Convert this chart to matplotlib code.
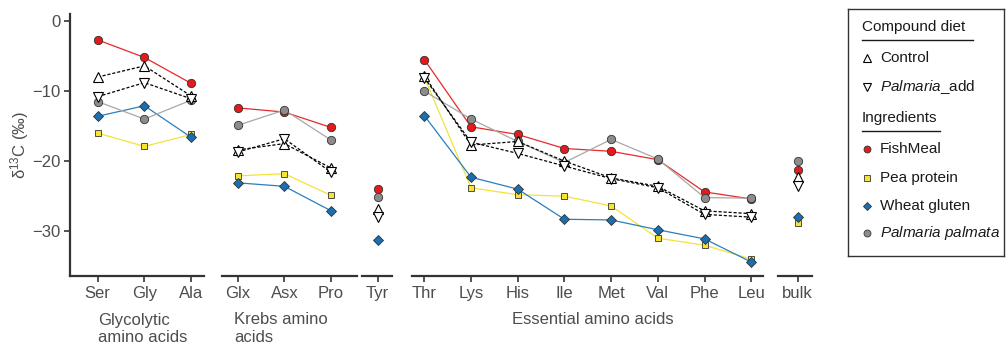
import numpy as np
import matplotlib.pyplot as plt

plt.rcParams['font.family'] = ['Liberation Sans', 'DejaVu Sans']
plt.rcParams['mathtext.fontset'] = 'custom'
plt.rcParams['mathtext.rm'] = 'Liberation Sans'
plt.rcParams['mathtext.it'] = 'Liberation Sans:italic'

# amino acid groups
glyco = ['Ser', 'Gly', 'Ala']
krebs = ['Glx', 'Asx', 'Pro']
tyr = ['Tyr']
essential = ['Thr', 'Lys', 'His', 'Ile', 'Met', 'Val', 'Phe', 'Leu']
bulk = ['bulk']

# d13C values, order: glyco + krebs + tyr + essential + bulk
fishmeal = [-2.7, -5.2, -8.9, -12.4, -13.0, -15.2, -24.0,
            -5.5, -15.1, -16.2, -18.2, -18.6, -19.8, -24.4, -25.4, -21.2]
pea = [-16.0, -17.9, -16.2, -22.1, -21.8, -24.9, np.nan,
       -8.0, -23.8, -24.8, -25.0, -26.4, -31.0, -32.0, -34.0, -28.9]
wheat = [-13.6, -12.1, -16.6, -23.1, -23.6, -27.1, -31.3,
         -13.5, -22.3, -24.0, -28.3, -28.4, -29.8, -31.1, -34.4, -28.0]
palmaria = [-11.5, -14.0, -11.3, -14.9, -12.7, -17.0, -25.1,
            -10.0, -14.0, -17.2, -20.2, -16.9, -19.7, -25.2, -25.3, -20.0]
control = [-8.0, -6.4, -10.7, -18.4, -17.5, -21.0, -26.9,
           -7.8, -17.7, -17.2, -20.0, -22.4, -23.6, -27.1, -27.5, -22.2]
palm_add = [-10.8, -8.8, -11.1, -18.7, -16.8, -21.6, -28.0,
            -8.1, -17.3, -18.9, -20.7, -22.5, -23.8, -27.6, -28.0, -23.5]

groups = [glyco, krebs, tyr, essential, bulk]
group_titles = [['Glycolytic', 'amino acids'], ['Krebs amino', 'acids'], [],
                ['Essential amino acids'], []]

W, H = 1008, 346
fig = plt.figure(figsize=(W / 100, H / 100), dpi=100)

txt = '#4d4d4d'
axc = '#333333'

# panel frames in pixels: left, right, pixel of first tick
frames = [(70, 204, 97.7), (222, 356.7, 237.7), (362.3, 391.7, 377.7),
          (412.3, 763, 424.3), (778.3, 812.3, 797.7)]
step = 46.7
top, bot = 14, 276

ingredients = [
    (fishmeal, '#e8282b', '#e41a1c', 'o', 6.0),
    (pea, '#f2e33a', '#f5e531', 's', 5.0),
    (wheat, '#2a7fc0', '#1b6fb0', 'D', 5.4),
    (palmaria, '#a8a8a8', '#8c8c8c', 'o', 6.0),
]
diets = [(control, '^'), (palm_add, 'v')]

start = 0
for i, (cats, (l, r, p0), title) in enumerate(zip(groups, frames, group_titles)):
    n = len(cats)
    ax = fig.add_axes([l / W, 1 - bot / H, (r - l) / W, (bot - top) / H])
    x = np.arange(n)
    sl = slice(start, start + n)
    for vals, lc, fc, mk, ms in ingredients:
        ax.plot(x, vals[sl], color=lc, lw=0.9, marker=mk, ms=ms,
                mfc=fc, mec='#333333', mew=0.6, zorder=3)
    for vals, mk in diets:
        ax.plot(x, vals[sl], color='black', lw=0.9, ls=(0, (2.5, 1.5)),
                marker=mk, ms=7, mfc='white', mec='black', mew=0.8, zorder=4)
    start += n

    ax.set_xlim((l - p0) / step, (r - p0) / step)
    ax.set_ylim(-36.4, 1.0)
    ax.set_xticks(x)
    ax.set_xticklabels(cats)
    for s in ['top', 'right']:
        ax.spines[s].set_visible(False)
    ax.spines['bottom'].set_color(axc)
    ax.spines['bottom'].set_linewidth(1.6)
    ax.tick_params(axis='x', colors=axc, labelcolor=txt, labelsize=12,
                   length=4, width=1.2, pad=3)
    if i == 0:
        ax.spines['left'].set_color(axc)
        ax.spines['left'].set_linewidth(1.6)
        ax.set_yticks([0, -10, -20, -30])
        ax.set_yticklabels(['0', '\u221210', '\u221220', '\u221230'])
        ax.tick_params(axis='y', colors=axc, labelcolor=txt, labelsize=12,
                       length=4, width=1.2, pad=3)
        ax.set_ylabel(r'$\mathrm{\delta}^{13}$C (‰)', fontsize=12, color=txt,
                      labelpad=1)
    else:
        ax.spines['left'].set_visible(False)
        ax.set_yticks([])
    ax.patch.set_alpha(0)

    # group label under the ticks
    if len(title) == 2:
        lx = 98 if i == 0 else 234
        for k, line in enumerate(title):
            fig.text(lx / W, 1 - (320 + 18 * k) / H, line, fontsize=12,
                     color=txt, ha='left', va='center')
    elif len(title) == 1:
        fig.text(593 / W, 1 - 320 / H, title[0], fontsize=12, color=txt,
                 ha='center', va='center')

# legend box
lx0, lx1, ly0, ly1 = 848, 1004, 9, 256
lg = fig.add_axes([lx0 / W, 1 - ly1 / H, (lx1 - lx0) / W, (ly1 - ly0) / H])
lg.set_xlim(lx0, lx1)
lg.set_ylim(ly1, ly0)
lg.set_xticks([])
lg.set_yticks([])
for s in lg.spines.values():
    s.set_color(axc)
    s.set_linewidth(1.0)

mx, tx = 867, 880
fs = 11
lg.text(862, 27, 'Compound diet', fontsize=fs, va='center', ha='left', color='#1a1a1a')
lg.plot([862, 973], [40, 40], color='#1a1a1a', lw=1)
lg.plot(mx, 58, marker='^', ms=6, mfc='white', mec='black', mew=0.8)
lg.text(tx, 58, 'Control', fontsize=fs, va='center', color='#1a1a1a')
lg.plot(mx, 87, marker='v', ms=6, mfc='white', mec='black', mew=0.8)
lg.text(tx, 87, r'$\mathit{Palmaria}$_add', fontsize=fs, va='center', color='#1a1a1a')
lg.text(862, 118, 'Ingredients', fontsize=fs, va='center', ha='left', color='#1a1a1a')
lg.plot([862, 940], [131, 131], color='#1a1a1a', lw=1)

leg_items = [('FishMeal', '#e41a1c', 'o', 5.0, 149),
             ('Pea protein', '#f5e531', 's', 4.3, 178),
             ('Wheat gluten', '#1b6fb0', 'D', 4.3, 206),
             (r'$\mathit{Palmaria\ palmata}$', '#8c8c8c', 'o', 5.0, 233)]
for name, fc, mk, ms, yy in leg_items:
    lg.plot(mx, yy, marker=mk, ms=ms, mfc=fc, mec='#333333', mew=0.6)
    lg.text(tx, yy, name, fontsize=fs, va='center', color='#1a1a1a')

fig.savefig('out.png', dpi=100)
